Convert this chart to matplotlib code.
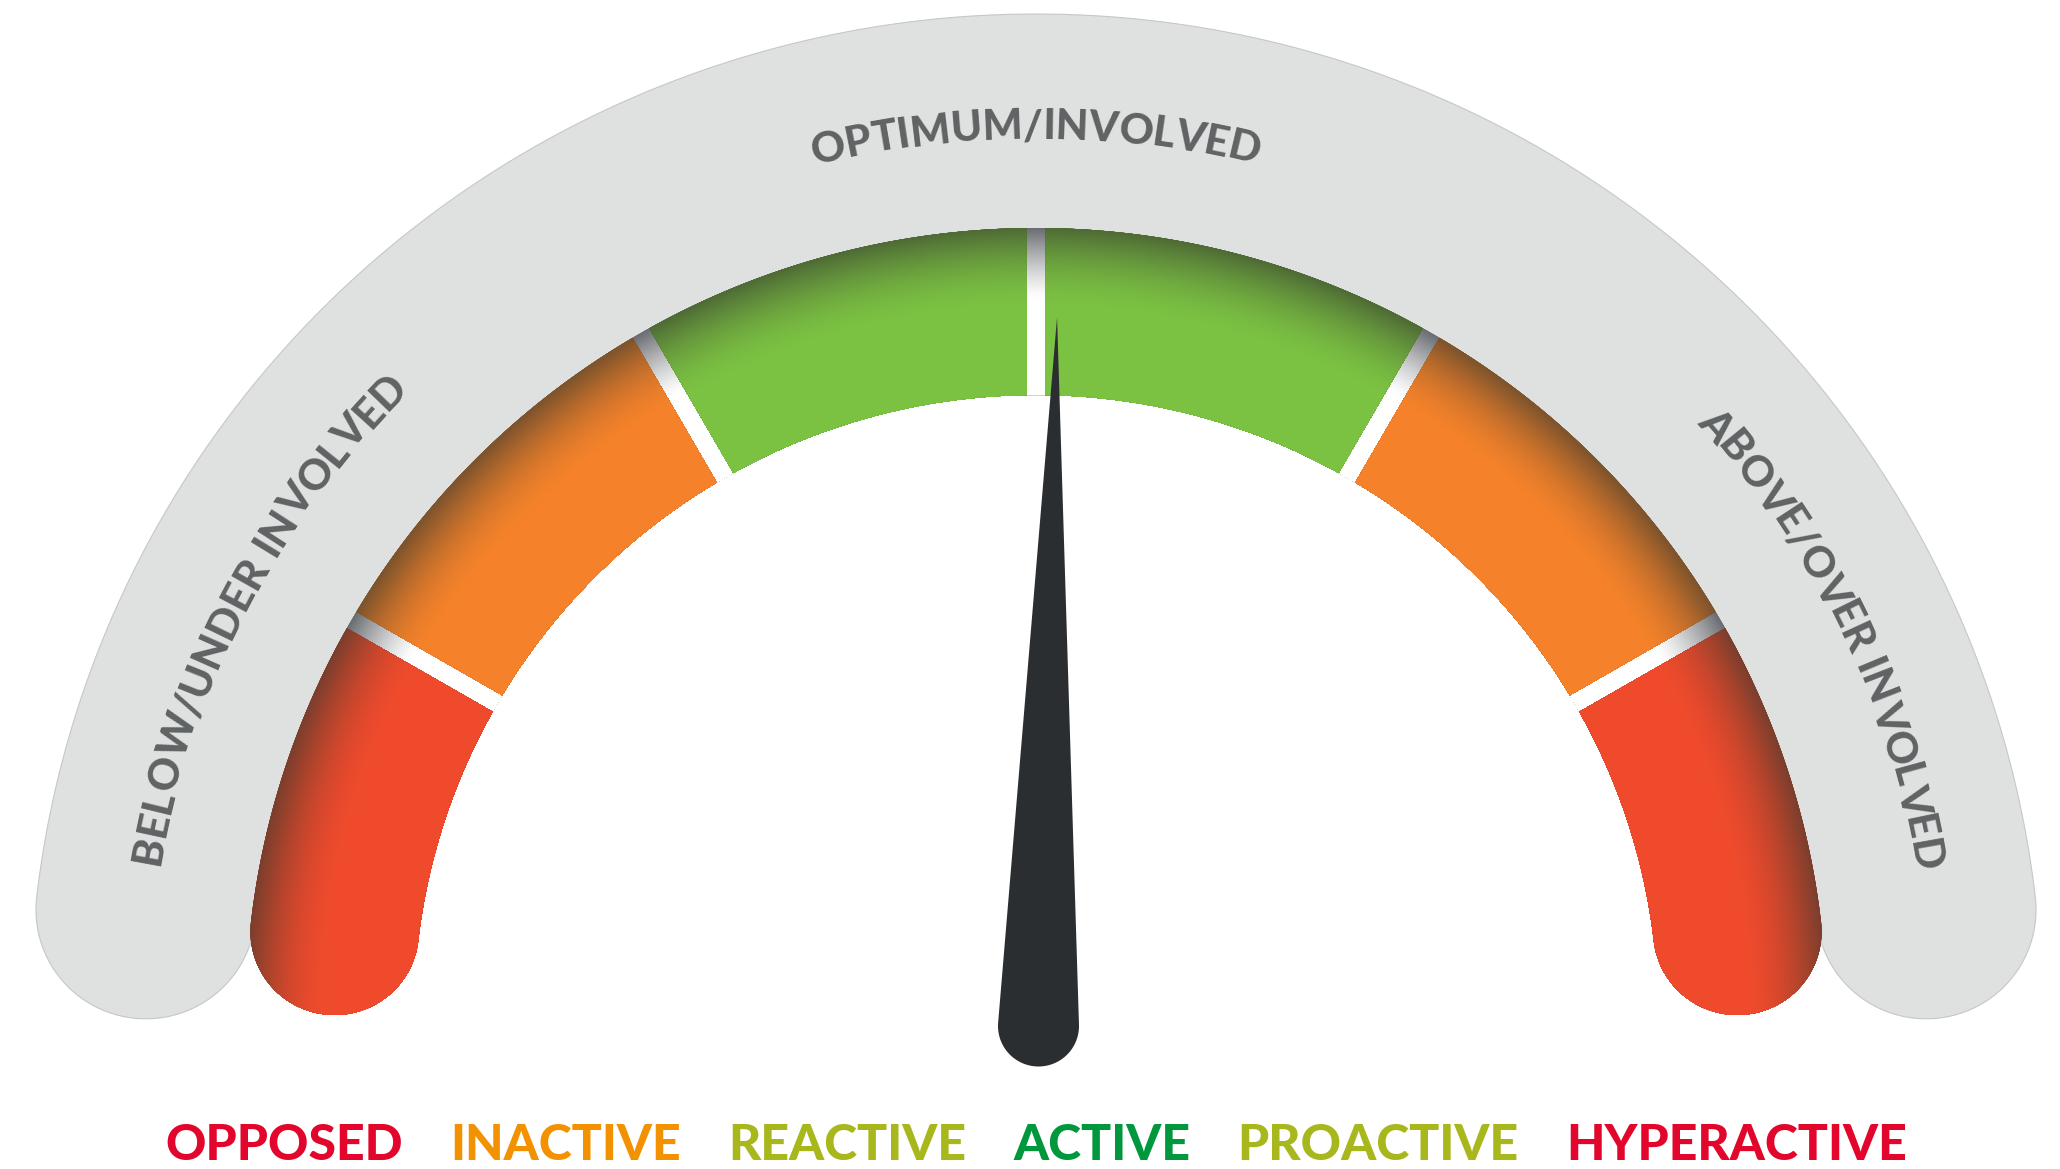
import numpy as np
import matplotlib
matplotlib.use("Agg")
import matplotlib.pyplot as plt
from matplotlib.patches import Polygon, Ellipse
from matplotlib.colors import to_rgb
from matplotlib.font_manager import FontProperties, findfont, get_font

# gauge data
segment_colors = ["#ef4a2c", "#f5822a", "#7bc142", "#7bc142", "#f5822a", "#ef4a2c"]
segment_edges = [0, 1, 2, 3, 4, 5, 6]
zone_labels = ["BELOW/UNDER INVOLVED", "OPTIMUM/INVOLVED", "ABOVE/OVER INVOLVED"]
zone_centers = [0.91, 3.0, 5.15]
scale_labels = ["OPPOSED", "INACTIVE", "REACTIVE", "ACTIVE", "PROACTIVE", "HYPERACTIVE"]
scale_colors = ["#e2062c", "#f39200", "#a7b71c", "#00973d", "#a7b71c", "#e2062c"]
needle_value = 3.05

W, H, DPI = 2060, 1169, 100
CX, CY, KX = 1036, 1012, 1.008      # gauge centre (pixels), slight horizontal stretch
END = 6.6                            # bands stop this many degrees above horizontal
R_GRAY = (780, 998)
R_BAND = (617, 784)
GAP = 19
TEXT_GRAY = "#5f6364"


def ang(v):
    # scale value 0..6 -> degrees, 180 on the left, 0 on the right
    a = 180 - v * 30
    return min(max(a, END), 180 - END)


def pt(r, a):
    t = np.radians(a)
    return CX + KX * r * np.cos(t), CY - r * np.sin(t)


def band(r_in, r_out, a0, a1, gap=0, cap0=False, cap1=False, n=240):
    h = gap / 2

    def arc(r, s, e):
        return [pt(r, a) for a in np.linspace(s, e, n)]

    def cap(a, side):
        rm, w = (r_in + r_out) / 2, (r_out - r_in) / 2
        t = np.radians(a)
        u = np.array([np.cos(t), np.sin(t)])
        tg = np.array([-np.sin(t), np.cos(t)]) * side
        out = []
        for p in np.linspace(0, np.pi, 80):
            v = rm * u + w * (u * np.cos(p) + tg * np.sin(p))
            out.append((CX + KX * v[0], CY - v[1]))
        return out

    off = lambda r: np.degrees(np.arcsin(h / r))
    o0 = a0 if cap0 else a0 + off(r_out)
    o1 = a1 if cap1 else a1 - off(r_out)
    i0 = a0 if cap0 else a0 + off(r_in)
    i1 = a1 if cap1 else a1 - off(r_in)
    pts = arc(r_out, o0, o1)
    if cap1:
        pts += cap(a1, 1)
    pts += arc(r_in, i1, i0)
    if cap0:
        pts += cap(a0, -1)[::-1]
    return pts


def shade(ax, patch, base, dark, amax, depth, power, r_out, zorder):
    # radial shadow near the outer rim: nested discs, clipped to the patch
    b, d = np.array(to_rgb(base)), np.array(to_rgb(dark))
    for r in np.arange(r_out + 6, r_out - depth - 2, -1.5):
        dd = max(r_out - r, 0)
        s = amax * max(0, 1 - dd / depth) ** power
        e = Ellipse((CX, CY), 2 * KX * r, 2 * r, facecolor=b * (1 - s) + d * s,
                    edgecolor="none", zorder=zorder)
        ax.add_patch(e)
        e.set_clip_path(patch)


def advances(s, prop):
    font = get_font(findfont(prop))
    font.set_size(prop.get_size_in_points(), DPI)
    return np.array([font.load_char(ord(c)).linearHoriAdvance / 65536 for c in s])


def arc_text(ax, s, r, a_center, size):
    prop = FontProperties(family="Lato", weight="black", size=size)
    adv = advances(s, prop)
    cap_h = 0.7165 * size * DPI / 72
    mids = np.cumsum(adv) - adv / 2 - adv.sum() / 2
    for c, m in zip(s, mids):
        a = a_center - np.degrees(m / r)
        rr = r + 10 * abs(np.cos(np.radians(a)))
        x, y = pt(rr - cap_h / 2, a)
        ax.text(x, y, c, fontproperties=prop, color=TEXT_GRAY, rotation=a - 90,
                rotation_mode="anchor", ha="center", va="baseline", zorder=6)


fig = plt.figure(figsize=(W / DPI, H / DPI), dpi=DPI)
ax = fig.add_axes([0, 0, 1, 1])
ax.set_xlim(0, W)
ax.set_ylim(H, 0)
ax.axis("off")

# grey outer band
gray = Polygon(band(*R_GRAY, END, 180 - END, cap0=True, cap1=True),
               closed=True, facecolor="#dfe1e0", edgecolor="#c6c8c7", lw=0.8, zorder=1)
ax.add_patch(gray)

# background seen through the separators
sep = Polygon(band(R_BAND[0], R_BAND[1], 25, 155), closed=True,
              facecolor="white", edgecolor="none", zorder=2)
ax.add_patch(sep)
shade(ax, sep, "#ffffff", "#6b6e72", 1.0, 70, 1.3, R_BAND[1], 2.1)

# coloured segments
n = len(segment_colors)
for i, col in enumerate(segment_colors):
    a_hi, a_lo = ang(segment_edges[i]), ang(segment_edges[i + 1])
    seg = Polygon(band(R_BAND[0], R_BAND[1], a_lo, a_hi, gap=GAP,
                       cap0=(i == n - 1), cap1=(i == 0)),
                  closed=True, facecolor=col, edgecolor="none", zorder=3)
    ax.add_patch(seg)
    shade(ax, seg, col, "#34372d", 0.62, 78, 1.7, R_BAND[1], 3.1)

# zone labels on the grey band
for lab, v in zip(zone_labels, zone_centers):
    arc_text(ax, lab, 888, 180 - v * 30, 30.5)

# needle
NX, NY = 1038.5, 1026
NEEDLE_LEN, NEEDLE_W = 709, 40.5
th = np.radians(180 - needle_value * 30)
al = np.arccos(NEEDLE_W / NEEDLE_LEN)
needle = [(NX + NEEDLE_LEN * np.cos(th), NY - NEEDLE_LEN * np.sin(th))]
for p in np.linspace(th + al, th + 2 * np.pi - al, 120):
    needle.append((NX + NEEDLE_W * np.cos(p), NY - NEEDLE_W * np.sin(p)))
ax.add_patch(Polygon(needle, closed=True, facecolor="#2b2e31", edgecolor="none", zorder=5))

# scale labels underneath
lprop = FontProperties(family="Lato", weight="black", size=36)
widths = [advances(s, lprop).sum() for s in scale_labels]
spacing = 47
x = CX - (sum(widths) + spacing * (len(widths) - 1)) / 2
base_y = 1160
for s, c, w in zip(scale_labels, scale_colors, widths):
    ax.text(x + w / 2, base_y, s, fontproperties=lprop, color=c,
            ha="center", va="baseline", zorder=6)
    x += w + spacing

fig.savefig("out.png", dpi=DPI)
plt.close(fig)
